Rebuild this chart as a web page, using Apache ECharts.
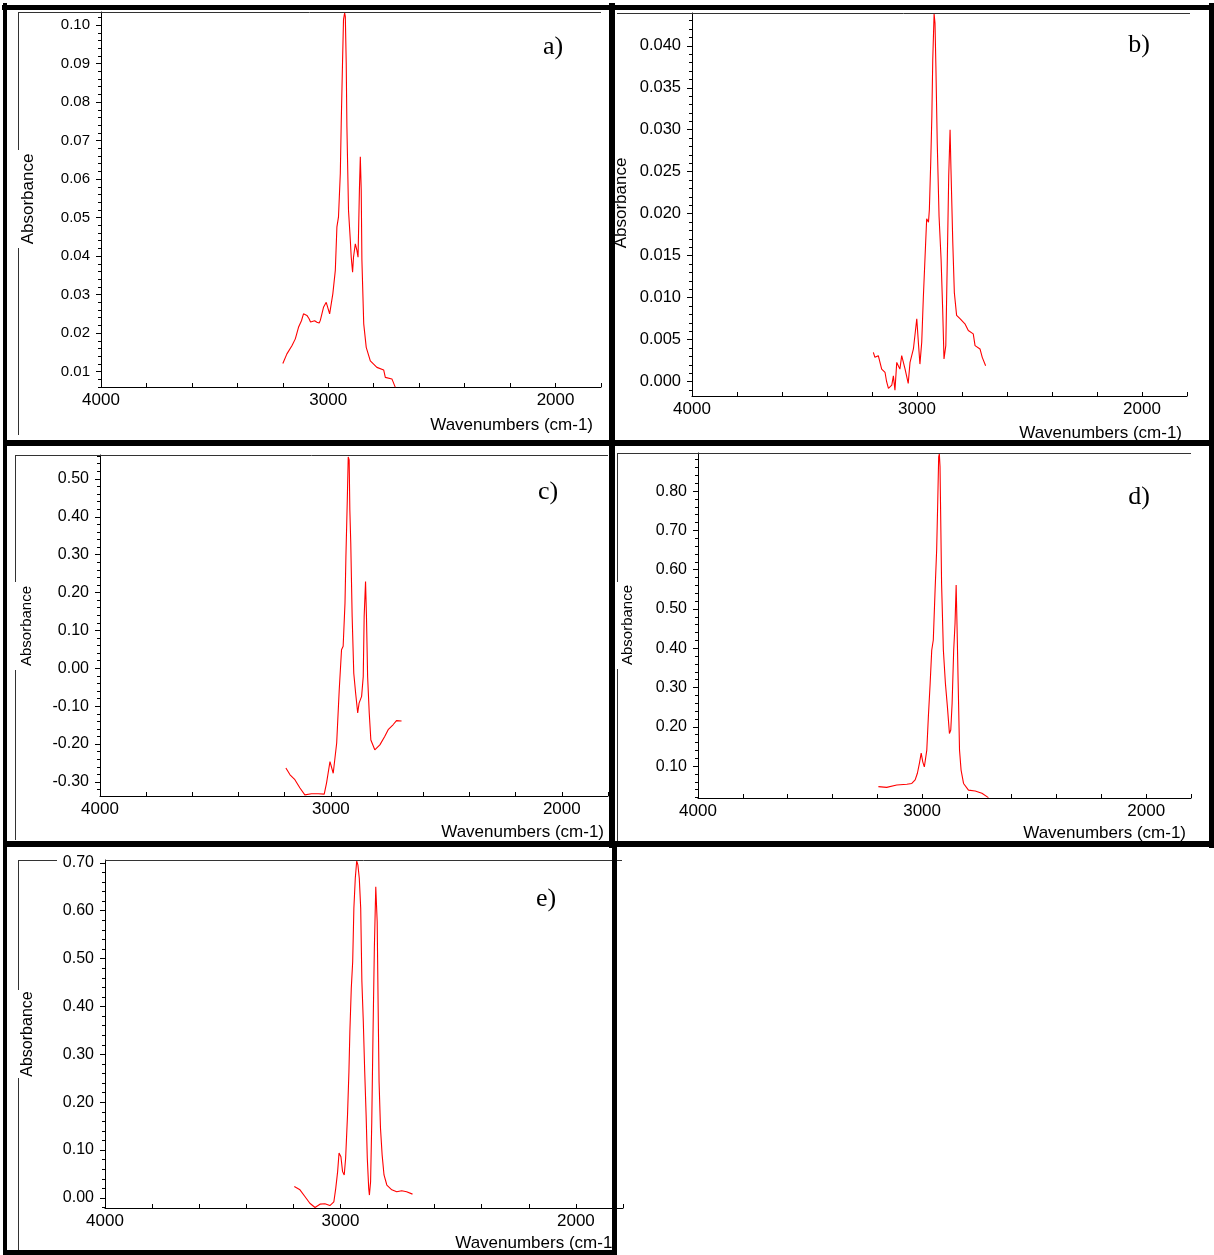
<!DOCTYPE html>
<html><head><meta charset="utf-8">
<script src="https://cdn.jsdelivr.net/npm/echarts@6/dist/echarts.min.js"></script>
<style>html,body{margin:0;padding:0;background:#fff}#c{width:1214px;height:1255px}</style>
</head><body><div id="c"></div>
<script>
// ---- Data (wavenumber cm-1, absorbance) ----
const spectrumA = [[3200,0.0121],[3182,0.0146],[3160,0.0167],[3145,0.0185],[3131,0.0215],[3118,0.0232],[3109,0.0250],[3094,0.0246],[3085,0.0238],[3078,0.0229],[3072,0.0224],[3060,0.0232],[3050,0.0228],[3040,0.0226],[3035,0.0233],[3028,0.0237],[3021,0.0267],[3009,0.0280],[2994,0.0250],[2980,0.0302],[2969,0.0363],[2962,0.0476],[2955,0.0502],[2947,0.0615],[2943,0.0745],[2937,0.0910],[2933,0.1014],[2928,0.1032],[2925,0.1022],[2921,0.0900],[2918,0.0736],[2911,0.0519],[2903,0.0441],[2899,0.0397],[2893,0.0358],[2889,0.0397],[2881,0.0432],[2874,0.0415],[2869,0.0397],[2863,0.0571],[2859,0.0658],[2855,0.0571],[2852,0.0389],[2844,0.0224],[2833,0.0163],[2815,0.0128],[2786,0.0111],[2756,0.0104],[2749,0.0085],[2720,0.0081],[2705,0.0059]];
const spectrumB = [[3194,0.0035],[3187,0.0029],[3172,0.0031],[3157,0.0015],[3142,0.0011],[3135,0.0000],[3127,-0.0008],[3112,-0.0004],[3105,0.0007],[3098,-0.0010],[3090,0.0023],[3076,0.0015],[3068,0.0031],[3053,0.0015],[3039,-0.0002],[3031,0.0023],[3016,0.0039],[3008,0.0040],[3001,0.0075],[2994,0.0047],[2987,0.0021],[2979,0.0047],[2972,0.0099],[2964,0.0150],[2957,0.0194],[2949,0.0190],[2945,0.0205],[2939,0.0261],[2934,0.0316],[2930,0.0383],[2924,0.0438],[2920,0.0427],[2916,0.0375],[2910,0.0284],[2902,0.0197],[2893,0.0146],[2886,0.0087],[2880,0.0027],[2872,0.0043],[2865,0.0150],[2859,0.0245],[2853,0.0300],[2849,0.0253],[2841,0.0166],[2834,0.0106],[2824,0.0079],[2809,0.0075],[2787,0.0069],[2772,0.0061],[2750,0.0057],[2742,0.0043],[2720,0.0039],[2710,0.0029],[2695,0.0019]];
const spectrumC = [[3195,-0.263],[3177,-0.281],[3156,-0.294],[3134,-0.316],[3113,-0.334],[3084,-0.331],[3055,-0.331],[3029,-0.332],[3019,-0.303],[3004,-0.246],[2990,-0.277],[2975,-0.197],[2964,-0.057],[2954,0.049],[2947,0.058],[2939,0.172],[2935,0.295],[2929,0.445],[2925,0.558],[2921,0.550],[2918,0.418],[2914,0.330],[2908,0.137],[2901,-0.013],[2893,-0.065],[2884,-0.118],[2878,-0.092],[2867,-0.074],[2860,-0.022],[2856,0.137],[2850,0.229],[2846,0.137],[2841,-0.022],[2834,-0.118],[2827,-0.189],[2810,-0.215],[2788,-0.202],[2767,-0.180],[2752,-0.162],[2731,-0.149],[2716,-0.138],[2694,-0.139]];
const spectrumD = [[3195,0.048],[3158,0.046],[3113,0.052],[3068,0.054],[3046,0.056],[3031,0.065],[3021,0.082],[3012,0.107],[3004,0.133],[2997,0.111],[2990,0.098],[2979,0.141],[2972,0.226],[2964,0.311],[2957,0.395],[2950,0.421],[2942,0.548],[2935,0.650],[2930,0.777],[2926,0.887],[2923,0.895],[2920,0.862],[2917,0.735],[2913,0.565],[2905,0.395],[2896,0.311],[2887,0.251],[2878,0.183],[2872,0.192],[2866,0.260],[2859,0.395],[2853,0.463],[2848,0.561],[2844,0.455],[2839,0.311],[2833,0.141],[2826,0.090],[2815,0.056],[2793,0.039],[2763,0.037],[2733,0.031],[2704,0.020]];
const spectrumE = [[3196,0.024],[3172,0.017],[3151,0.003],[3130,-0.011],[3108,-0.020],[3087,-0.013],[3066,-0.012],[3045,-0.016],[3028,-0.008],[3020,0.020],[3012,0.055],[3006,0.094],[2998,0.086],[2991,0.055],[2984,0.048],[2978,0.083],[2970,0.173],[2964,0.264],[2960,0.347],[2954,0.438],[2948,0.494],[2943,0.605],[2937,0.668],[2931,0.704],[2926,0.696],[2920,0.668],[2914,0.605],[2909,0.452],[2903,0.369],[2897,0.264],[2891,0.173],[2886,0.083],[2880,0.020],[2877,0.006],[2872,0.034],[2867,0.159],[2862,0.334],[2856,0.522],[2850,0.650],[2847,0.647],[2844,0.577],[2840,0.403],[2836,0.243],[2830,0.146],[2823,0.090],[2815,0.048],[2803,0.027],[2782,0.017],[2761,0.013],[2740,0.015],[2719,0.013],[2694,0.008]];

// ---- Tick labels ----
const yTicksA = [0.01,0.02,0.03,0.04,0.05,0.06,0.07,0.08,0.09,0.10];
const yTicksB = [0.000,0.005,0.010,0.015,0.020,0.025,0.030,0.035,0.040];
const yTicksC = [-0.30,-0.20,-0.10,0.00,0.10,0.20,0.30,0.40,0.50];
const yTicksD = [0.10,0.20,0.30,0.40,0.50,0.60,0.70,0.80];
const yTicksE = [0.00,0.10,0.20,0.30,0.40,0.50,0.60,0.70];
const xTickLabels = [2000,3000,4000];
const xTicks = [1800,2000,2200,2400,2600,2800,3000,3200,3400,3600,3800,4000];
const panelLetters = ['a)','b)','c)','d)','e)'];
const xTitle = 'Wavenumbers (cm-1)';
const yTitle = 'Absorbance';

const FONT = "'Liberation Sans', Arial, sans-serif";
const panels = [
  {data:spectrumA, ticks:yTicksA, minor:0.002, dec:2, ymin:0.006, ymax:0.1034, left:101, top:12, width:500, height:375, yFont:15},
  {data:spectrumB, ticks:yTicksB, minor:0.001, dec:3, ymin:-0.0017, ymax:0.0439, left:692, top:13, width:495, height:383, yFont:16.5},
  {data:spectrumC, ticks:yTicksC, minor:0.02, dec:2, ymin:-0.337, ymax:0.563, left:100, top:455, width:508, height:341, yFont:16},
  {data:spectrumD, ticks:yTicksD, minor:0.02, dec:2, ymin:0.019, ymax:0.897, left:698, top:453, width:493, height:345, yFont:16},
  {data:spectrumE, ticks:yTicksE, minor:0.02, dec:2, ymin:-0.021, ymax:0.706, left:105, top:860, width:518, height:348, yFont:16}
];

function minorTicks(min, max, step){
  const out = [];
  for (let k = Math.ceil(min/step - 1e-9); k*step <= max + 1e-12; k++) out.push(+(k*step).toFixed(6));
  return out;
}

const grids = [], xAxes = [], yAxes = [], series = [];
panels.forEach((p,i)=>{
  grids.push({left:p.left, top:p.top, width:p.width, height:p.height, containLabel:false, outerBoundsMode:'none'});
  xAxes.push({type:'value', gridIndex:i, inverse:true, min:1800, max:4000,
    axisLine:{show:true, onZero:false, lineStyle:{color:'#000', width:1}},
    axisTick:{show:true, customValues:xTicks, inside:true, length:4, lineStyle:{color:'#000'}},
    axisLabel:{customValues:xTickLabels, formatter:(v)=>String(Math.round(v)), fontSize:17, color:'#000', margin:5, fontFamily:FONT},
    splitLine:{show:false}});
  yAxes.push({type:'value', gridIndex:i, position:'left', min:p.ymin, max:p.ymax,
    axisLine:{show:true, onZero:false, lineStyle:{color:'#000', width:1}},
    axisTick:{show:true, customValues:p.ticks, length:5, lineStyle:{color:'#000'}},
    axisLabel:{customValues:p.ticks, formatter:(v)=>Number(v).toFixed(p.dec), fontSize:p.yFont, color:'#000', margin:11, fontFamily:FONT},
    splitLine:{show:false}});
  yAxes.push({type:'value', gridIndex:i, position:'left', min:p.ymin, max:p.ymax,
    axisLine:{show:false, onZero:false},
    axisTick:{show:true, customValues:minorTicks(p.ymin,p.ymax,p.minor), length:3, lineStyle:{color:'#000'}},
    axisLabel:{show:false}, splitLine:{show:false}});
  series.push({type:'line', xAxisIndex:i, yAxisIndex:2*i, data:p.data, showSymbol:false, symbol:'none',
    lineStyle:{color:'#ff0000', width:1.1}, clip:true, animation:false});
});

// ---- Decorations (frames, titles, letters) ----
const G = [];
function rect(x,y,w,h){G.push({type:'rect', z:100, shape:{x:x,y:y,width:w,height:h}, style:{fill:'#000'}});}
function line(x1,y1,x2,y2){G.push({type:'line', z:90, shape:{x1:x1,y1:y1,x2:x2,y2:y2}, style:{stroke:'#333', lineWidth:1}});}
function text(t,x,y,opts){G.push(Object.assign({type:'text', z:95, x:x, y:y, style:Object.assign({text:t, fill:'#000', font:'17px '+FONT, textAlign:'center', textVerticalAlign:'middle'}, opts.style||{})}, opts.el||{}));}

// thick outer frames
rect(2,5,1212,5); rect(3,3,4,1252); rect(609,3,6,845); rect(3,440,1211,6); rect(3,841,1211,6); rect(1209,3,5,845); rect(612,841,5,414); rect(3,1250,614,5);
// thin inner frame lines
line(18.5,12,18.5,150); line(18.5,248,18.5,435); line(18,12.5,601,12.5);
line(617,13.5,1190,13.5);
line(15.5,455,15.5,582); line(15.5,670,15.5,840); line(15,455.5,608,455.5);
line(617.5,453,617.5,582); line(617.5,669,617.5,841); line(617,453.5,1191,453.5);
line(18.5,860,18.5,990); line(18.5,1078,18.5,1250); line(18,860.5,57,860.5); line(105,860.5,622,860.5);
// y titles
const yT = [[28,199,17],[621,203,17],[27,626,15],[628,625,15],[28,1034,16]];
yT.forEach(a=>text(yTitle,a[0],a[1],{style:{font:a[2]+'px '+FONT}, el:{rotation:Math.PI/2}}));
// x titles
const xT = [[593,425],[1182,433],[604,832],[1186,833],[618,1243]];
xT.forEach(a=>text(xTitle,a[0],a[1],{style:{textAlign:'right'}}));
// panel letters
const lp = [[553,47],[1139,45],[548,492],[1139,497],[546,899]];
lp.forEach((a,i)=>text(panelLetters[i],a[0],a[1],{style:{font:"26px 'Liberation Serif', 'Times New Roman', serif"}}));

const chart = echarts.init(document.getElementById('c'), null, {renderer:'canvas'});
chart.setOption({animation:false, backgroundColor:'#fff', grid:grids, xAxis:xAxes, yAxis:yAxes, series:series, graphic:{elements:G}});
</script></body></html>
